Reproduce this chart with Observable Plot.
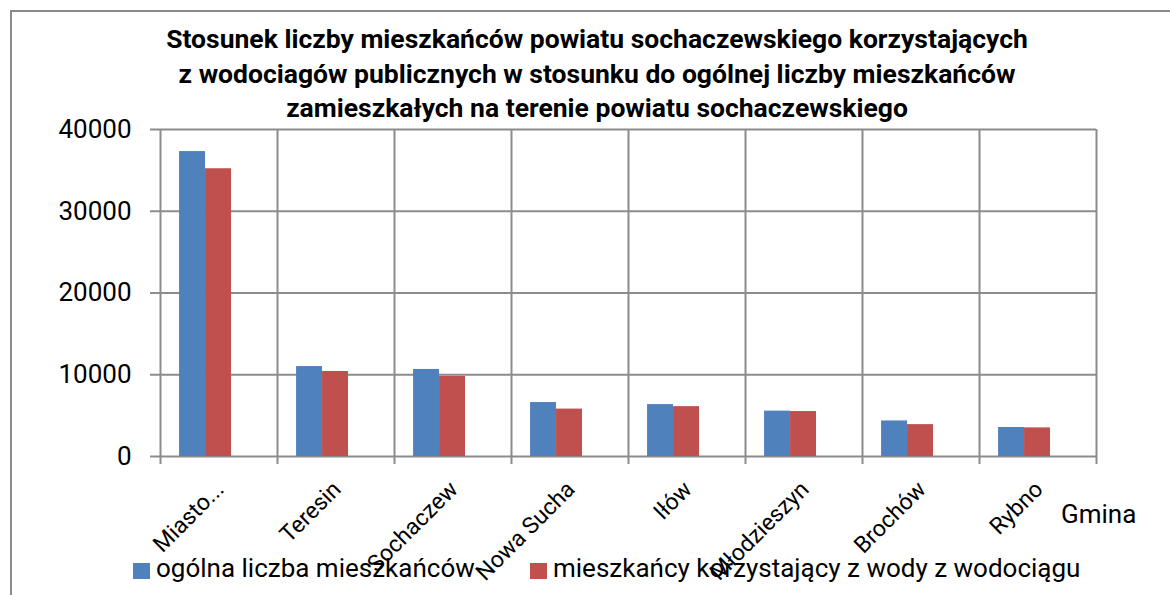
<!DOCTYPE html>
<html>
<head>
<meta charset="utf-8">
<script src="https://cdn.jsdelivr.net/npm/d3@7"></script>
<script src="https://cdn.jsdelivr.net/npm/@observablehq/plot@0.6"></script>
<style>
  html, body { margin: 0; padding: 0; background: #fff; }
  #wrap { position: relative; width: 1170px; height: 595px; overflow: hidden; font-family: Roboto, "Liberation Sans", sans-serif; }
  #border { position: absolute; left: 10px; top: 10px; width: 1200px; height: 700px; border-left: 2px solid #8a8a8a; border-top: 2px solid #8a8a8a; }
  #title { position: absolute; left: 12px; top: 22px; width: 1170px; text-align: center; font-weight: bold; font-size: 26.5px; line-height: 34.5px; color: #000; }
  #chart { position: absolute; left: 0; top: 110px; }
  #gmina { position: absolute; left: 1061px; top: 499px; font-size: 26px; color: #000; }
  #legend { position: absolute; left: 133px; top: 556px; font-size: 26px; color: #000; white-space: nowrap; }
  .item { position: absolute; top: 0; white-space: nowrap; }
  .sw { position: absolute; top: 7px; width: 17px; height: 16px; }
  .lab { position: absolute; left: 23px; top: -3px; }
</style>
</head>
<body>
<div id="wrap">
  <div id="border"></div>
  <div id="title"></div>
  <div id="chart"></div>
  <div id="gmina"></div>
  <div id="legend"></div>
</div>
<script>
const titleLines = [
  "Stosunek liczby mieszkańców powiatu sochaczewskiego korzystających",
  "z wodociagów publicznych w stosunku do ogólnej liczby mieszkańców",
  "zamieszkałych na terenie powiatu sochaczewskiego"
];
const categories = ["Miasto...", "Teresin", "Sochaczew", "Nowa Sucha", "Iłów", "Młodzieszyn", "Brochów", "Rybno"];
const totalResidents = [37300, 11000, 10650, 6600, 6350, 5550, 4350, 3550];
const waterUsers = [35200, 10400, 9800, 5800, 6100, 5500, 3900, 3500];
const seriesNames = ["ogólna liczba mieszkańców", "mieszkańcy korzystający z wody z wodociągu"];
const seriesColors = ["#4F81BD", "#C0504D"];
const yTicks = [0, 10000, 20000, 30000, 40000];
const xAxisLabel = "Gmina";

document.getElementById("title").innerHTML = titleLines.join("<br>");
document.getElementById("gmina").textContent = xAxisLabel;

const W = 1170, H = 485;
const mL = 160, mR = 74, mT = 19, mB = 139;
const step = (W - mL - mR) / categories.length;
const gridColor = "#8c8c8c";

const rows = categories.map((c, i) => ({category: c, total: totalResidents[i], water: waterUsers[i]}));

const chart = Plot.plot({
  width: W,
  height: H,
  marginLeft: mL,
  marginRight: mR,
  marginTop: mT,
  marginBottom: mB,
  style: {fontFamily: "Roboto, 'Liberation Sans', sans-serif", background: "transparent", overflow: "visible", color: "#000"},
  x: {domain: categories, padding: 0, axis: null},
  y: {domain: [0, 40000], axis: null},
  marks: [
    Plot.ruleY(yTicks, {y: d => d, stroke: gridColor, strokeWidth: 2, insetLeft: -10}),
    Plot.ruleX(categories, {x: d => d, dx: -step / 2, stroke: gridColor, strokeWidth: 2, insetBottom: -8}),
    Plot.ruleX(categories.slice(-1), {x: d => d, dx: step / 2, stroke: gridColor, strokeWidth: 2, insetBottom: -8}),
    Plot.barY(rows, {x: "category", y: "total", fill: seriesColors[0], insetLeft: step * 0.163, insetRight: step * 0.615}),
    Plot.barY(rows, {x: "category", y: "water", fill: seriesColors[1], insetLeft: step * 0.385, insetRight: step * 0.393}),
    Plot.axisY({ticks: yTicks, tickSize: 0, tickPadding: 29, fontSize: 26, tickFormat: d => String(d), label: null}),
    Plot.axisX({tickRotate: -45, tickSize: 0, tickPadding: 29, dx: 1, fontSize: 23, label: null})
  ]
});
document.getElementById("chart").appendChild(chart);

const legend = document.getElementById("legend");
const legendX = [0, 397];
seriesNames.forEach((name, i) => {
  const item = document.createElement("div");
  item.className = "item";
  item.style.left = legendX[i] + "px";
  item.innerHTML = `<div class="sw" style="background:${seriesColors[i]}"></div><div class="lab">${name}</div>`;
  legend.appendChild(item);
});
</script>
</body>
</html>
